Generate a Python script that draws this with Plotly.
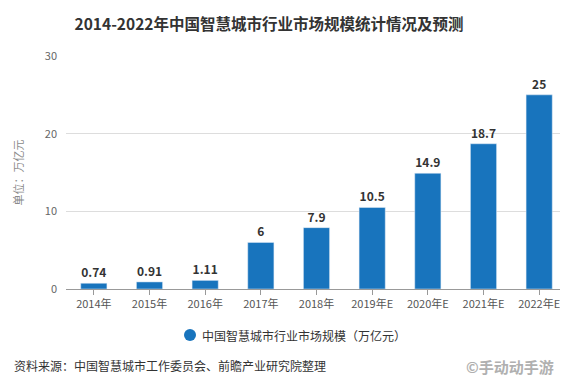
import plotly.graph_objects as go

categories = ["2014年", "2015年", "2016年", "2017年", "2018年", "2019年E", "2020年E", "2021年E", "2022年E"]
values = [0.74, 0.91, 1.11, 6, 7.9, 10.5, 14.9, 18.7, 25]
labels = ["0.74", "0.91", "1.11", "6", "7.9", "10.5", "14.9", "18.7", "25"]
series_name = "中国智慧城市行业市场规模（万亿元）"
title = "2014-2022年中国智慧城市行业市场规模统计情况及预测"
y_title = "单位：万亿元"
source = "资料来源：中国智慧城市工作委员会、前瞻产业研究院整理"
watermark = "©手动动手游"

FONT = "Noto Sans CJK SC"
BLUE = "#1874bd"
PW, PH = 501, 233  # plot area size in px

def px_x(x):
    return (x - 58) / PW

def px_y(y):
    return (281 - y) / PH

fig = go.Figure()
fig.add_trace(go.Bar(
    x=categories, y=values, text=labels, textposition="outside",
    textfont=dict(family=FONT, size=12, color="#333333"),
    texttemplate="<b>%{text}</b>",
    marker=dict(color=BLUE), showlegend=False, cliponaxis=False,
    hoverinfo="skip", name=series_name,
))

fig.update_layout(
    width=568, height=377,
    margin=dict(l=58, r=9, t=48, b=96),
    paper_bgcolor="white", plot_bgcolor="white",
    bargap=0.53,
    showlegend=False,
    font=dict(family=FONT, color="#555555"),
    title=dict(text="<b>" + title + "</b>", x=261 / 568, xanchor="center", y=1 - 17 / 377, yanchor="middle",
               font=dict(family=FONT, size=15.5, color="#333333")),
    xaxis=dict(showline=True, linecolor="#999999", ticks="outside", ticklen=5, tickcolor="#999999",
               tickfont=dict(family=FONT, size=11, color="#555555")),
    yaxis=dict(range=[0, 30], dtick=10, showgrid=True, gridcolor="#dddddd", zeroline=False,
               tickfont=dict(family=FONT, size=11, color="#666666"), ticklabelstandoff=8,
               title=dict(text=y_title, font=dict(family=FONT, size=11, color="#8a8a8a"), standoff=18)),
    shapes=[
        dict(type="circle", xref="paper", yref="paper",
             x0=px_x(176), x1=px_x(188), y0=px_y(333), y1=px_y(321),
             fillcolor=BLUE, line=dict(width=0)),
    ],
    annotations=[
        dict(text=series_name, xref="paper", yref="paper", x=px_x(192), y=px_y(327),
             xanchor="left", yanchor="middle", showarrow=False,
             font=dict(family=FONT, size=12, color="#333333")),
        dict(text=source, xref="paper", yref="paper", x=px_x(4), y=px_y(357),
             xanchor="left", yanchor="middle", showarrow=False,
             font=dict(family=FONT, size=12, color="#333333")),
        dict(text=watermark, xref="paper", yref="paper", x=px_x(456), y=px_y(358),
             xanchor="left", yanchor="middle", showarrow=False,
             font=dict(family=FONT, size=15, color="#b0b0b0", weight=700)),
    ],
)

fig.write_html("out.html")
